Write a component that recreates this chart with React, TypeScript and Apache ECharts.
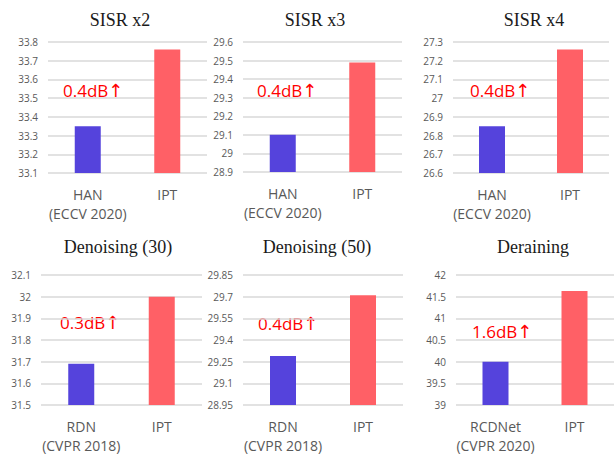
import React, { useEffect, useRef } from "react";
import * as echarts from "echarts";

const titles = ["SISR x2", "SISR x3", "SISR x4", "Denoising (30)", "Denoising (50)", "Deraining"];
const categories = [
  ["HAN\n(ECCV 2020)", "IPT"],
  ["HAN\n(ECCV 2020)", "IPT"],
  ["HAN\n(ECCV 2020)", "IPT"],
  ["RDN\n(CVPR 2018)", "IPT"],
  ["RDN\n(CVPR 2018)", "IPT"],
  ["RCDNet\n(CVPR 2020)", "IPT"],
];
const baselineValues = [33.35, 29.1, 26.85, 31.69, 29.29, 40.0];
const iptValues = [33.76, 29.49, 27.26, 32.0, 29.71, 41.63];
const yMins = [33.1, 28.9, 26.6, 31.5, 28.95, 39];
const yMaxs = [33.8, 29.6, 27.3, 32.1, 29.85, 42];
const yIntervals = [0.1, 0.1, 0.1, 0.1, 0.15, 0.5];
const gains = ["0.4dB↑", "0.4dB↑", "0.4dB↑", "0.3dB↑", "0.4dB↑", "1.6dB↑"];

// layout (px)
const grids = [
  { left: 48, top: 42, width: 159, height: 131 },
  { left: 243, top: 42, width: 159, height: 130 },
  { left: 453, top: 42, width: 156, height: 131 },
  { left: 41, top: 275, width: 161, height: 131 },
  { left: 243, top: 275, width: 160, height: 130 },
  { left: 456, top: 275, width: 158, height: 131 },
];
const titlePos = [
  { x: 120, y: 20 },
  { x: 315, y: 20 },
  { x: 534, y: 20 },
  { x: 118, y: 247 },
  { x: 317, y: 247 },
  { x: 533, y: 247 },
];
const gainPos = [
  { x: 63, y: 90 },
  { x: 257, y: 90 },
  { x: 470, y: 90 },
  { x: 60, y: 322 },
  { x: 258, y: 323 },
  { x: 472, y: 331 },
];

const BLUE = "#5543DC";
const RED = "#FF6066";

export default function App() {
  const ref = useRef<HTMLDivElement>(null);
  useEffect(() => {
    if (!ref.current) return;
    const chart = echarts.init(ref.current, null, { renderer: "svg" });
    const option: any = {
      animation: false,
      backgroundColor: "#ffffff",
      grid: grids.map((g) => ({ ...g, containLabel: false })),
      xAxis: categories.map((c, i) => ({
        type: "category",
        gridIndex: i,
        data: c,
        axisLine: { show: false },
        axisTick: { show: false },
        axisLabel: {
          color: "#595959",
          fontSize: 14,
          fontFamily: "Open Sans",
          lineHeight: 19,
          margin: 12,
          interval: 0,
        },
      })),
      yAxis: yMins.map((mn, i) => ({
        type: "value",
        gridIndex: i,
        min: mn,
        max: yMaxs[i],
        interval: yIntervals[i],
        axisLine: { show: false },
        axisTick: { show: false },
        splitLine: { lineStyle: { color: "#D9D9D9", width: 1.5 } },
        axisLabel: {
          color: "#595959",
          fontSize: 10,
          fontFamily: "Open Sans",
          margin: 10,
        },
      })),
      series: baselineValues.map((b, i) => ({
        type: "bar",
        xAxisIndex: i,
        yAxisIndex: i,
        barWidth: 26,
        data: [
          { value: b, itemStyle: { color: BLUE } },
          { value: iptValues[i], itemStyle: { color: RED } },
        ],
      })),
      graphic: [
        ...titles.map((t, i) => ({
          type: "text",
          x: titlePos[i].x,
          y: titlePos[i].y,
          style: {
            text: t,
            fill: "#1a1a1a",
            font: '18px "Liberation Serif"',
            textAlign: "center",
            textVerticalAlign: "middle",
          },
        })),
        ...gains.map((t, i) => ({
          type: "text",
          x: gainPos[i].x,
          y: gainPos[i].y,
          style: {
            text: "{a|" + t.replace("↑", "") + "}{b|↑}",
            textAlign: "left",
            textVerticalAlign: "middle",
            rich: {
              a: { fill: "#FF0000", fontSize: 17, fontFamily: "Open Sans" },
              b: { fill: "#FF0000", fontSize: 18, fontFamily: "DejaVu Sans" },
            },
          },
        })),
      ],
    };
    chart.setOption(option);
    return () => chart.dispose();
  }, []);
  return <div ref={ref} style={{ width: 614, height: 455, position: "absolute", left: 0, top: 0 }} />;
}
